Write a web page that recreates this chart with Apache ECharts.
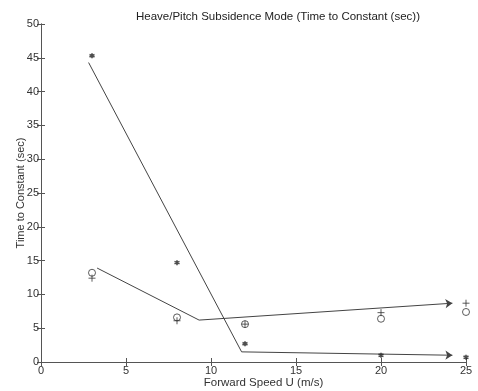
<!DOCTYPE html>
<html>
<head>
<meta charset="utf-8">
<script src="https://cdn.jsdelivr.net/npm/echarts@6/dist/echarts.min.js"></script>
<style>
  html, body { margin: 0; padding: 0; background: #fff; }
  #chart { width: 478px; height: 391px; }
</style>
</head>
<body>
<div id="chart"></div>
<script>
// Forward speeds (m/s) at which the mode was evaluated
const speeds = [3, 8, 12, 20, 25];
// Time to constant (sec) for each configuration
const yaz2a = [45.3, 14.7, 2.7, 1.0, 0.7];
const ka002y = [12.4, 6.1, 5.6, 7.3, 8.7];
const ka003y = [13.2, 6.6, 5.6, 6.4, 7.4];

// Hand-drawn trend lines (speed, time)
const yazTrendX = [2.8, 11.8, 24.2];
const yazTrendY = [44.3, 1.5, 1.0];
const kaTrendX = [3.3, 9.3, 24.2];
const kaTrendY = [13.9, 6.2, 8.7];

const xTicks = [0, 5, 10, 15, 20, 25];
const yTicks = [0, 5, 10, 15, 20, 25, 30, 35, 40, 45, 50];

const pairs = (xs, ys) => xs.map((x, i) => [x, ys[i]]);
// split a trend into its plain leading segment(s) and the final arrowed one
const leadSegments = (xs, ys) => xs.slice(0, -2).map((x, i) => ({ coords: [[x, ys[i]], [xs[i + 1], ys[i + 1]]] }));
const lastSegment = (xs, ys) => { const n = xs.length; return { coords: [[xs[n - 2], ys[n - 2]], [xs[n - 1], ys[n - 1]]] }; };

const ink = '#333';
const font = 'Liberation Sans, Arial, sans-serif';

const chart = echarts.init(document.getElementById('chart'));

const axisCommon = {
  type: 'value',
  axisLine: { show: true, lineStyle: { color: '#555', width: 1 } },
  axisTick: { show: true, inside: true, length: 4, lineStyle: { color: '#555' } },
  splitLine: { show: false }
};

chart.setOption({
  animation: false,
  backgroundColor: '#fff',
  title: {
    text: 'Heave/Pitch Subsidence Mode (Time to Constant (sec))',
    left: 273, top: 6, textAlign: 'center',
    textStyle: { fontFamily: font, fontSize: 11.5, fontWeight: 'normal', color: '#222' }
  },
  grid: { left: 41, right: 12, top: 24, bottom: 29, outerBoundsMode: 'none', containLabel: false },
  xAxis: [
    Object.assign({}, axisCommon, {
      min: xTicks[0], max: xTicks[xTicks.length - 1], interval: 5,
      name: 'Forward Speed U (m/s)', nameLocation: 'middle', nameGap: 15,
      nameMoveOverlap: false,
      nameTextStyle: { fontFamily: font, fontSize: 11.5, color: ink, padding: [0, 0, 0, 20] },
      axisLabel: { fontFamily: font, fontSize: 11, color: ink, margin: 3 }
    }),
    Object.assign({}, axisCommon, {
      position: 'top', min: 0, max: 25, interval: 5,
      axisLabel: { show: false }
    })
  ],
  yAxis: [
    Object.assign({}, axisCommon, {
      min: yTicks[0], max: yTicks[yTicks.length - 1], interval: 5,
      name: 'Time to Constant (sec)', nameLocation: 'middle', nameGap: 15,
      nameMoveOverlap: false,
      nameTextStyle: { fontFamily: font, fontSize: 11, color: ink },
      axisLabel: { fontFamily: font, fontSize: 11, color: ink, margin: 2 }
    }),
    Object.assign({}, axisCommon, {
      position: 'right', min: 0, max: 50, interval: 5,
      axisLabel: { show: false }
    })
  ],
  series: [
    {
      type: 'lines', coordinateSystem: 'cartesian2d',
      symbol: ['none', 'none'],
      lineStyle: { color: '#444', width: 1, opacity: 1 },
      data: leadSegments(yazTrendX, yazTrendY).concat(leadSegments(kaTrendX, kaTrendY)),
      z: 2
    },
    {
      type: 'lines', coordinateSystem: 'cartesian2d',
      symbol: ['none', 'arrow'], symbolSize: 7,
      lineStyle: { color: '#444', width: 1, opacity: 1 },
      data: [lastSegment(yazTrendX, yazTrendY), lastSegment(kaTrendX, kaTrendY)],
      z: 2
    },
    {
      name: 'YAZ-2A', type: 'scatter',
      symbol: 'path://M0,-1L0,1M-0.87,-0.5L0.87,0.5M-0.87,0.5L0.87,-0.5',
      symbolSize: 5,
      itemStyle: { color: '#222', borderColor: '#222', borderWidth: 1.6 },
      data: pairs(speeds, yaz2a), z: 3
    },
    {
      name: 'KA003Y', type: 'scatter',
      symbol: 'path://M1,0A1,1 0 1 1 -1,0A1,1 0 1 1 1,0Z',
      symbolSize: 7,
      itemStyle: { color: 'none', borderColor: '#333', borderWidth: 1 },
      data: pairs(speeds, ka003y), z: 3
    },
    {
      name: 'KA002Y', type: 'scatter',
      symbol: 'path://M0,-1L0,1M-1,0L1,0',
      symbolSize: 7,
      itemStyle: { color: 'none', borderColor: '#333', borderWidth: 1 },
      data: pairs(speeds, ka002y), z: 4
    },
    {
      type: 'scatter', symbol: 'circle', symbolSize: 0, silent: true,
      itemStyle: { opacity: 0 },
      label: {
        show: true, position: 'right', distance: 0,
        formatter: p => p.data.name,
        fontFamily: font, fontSize: 8, fontWeight: 'bold', color: '#333'
      },
      data: [
        { name: 'YAZ-2A', value: [5.9, 36.6] },
        { name: 'KA002Y', value: [19.8, 12.7] },
        { name: 'KA003Y', value: [21.2, 9.9] }
      ],
      z: 5
    }
  ]
});
</script>
</body>
</html>
